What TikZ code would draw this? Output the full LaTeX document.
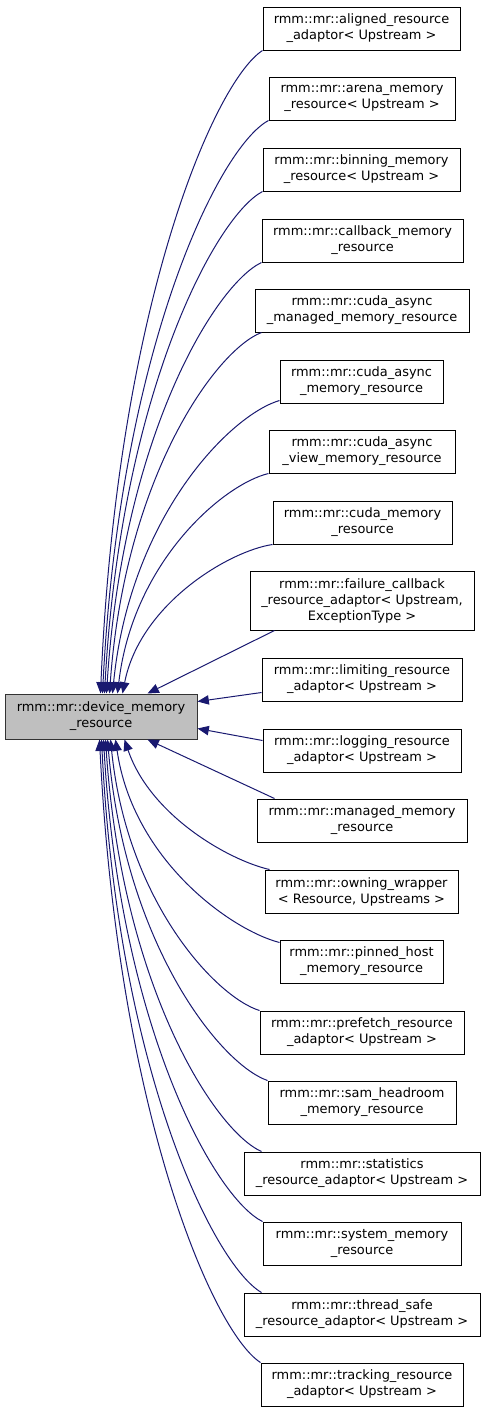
\documentclass[tikz,border=0pt]{standalone}
\usepackage{fontspec}
\setmainfont{DejaVu Sans}
\usetikzlibrary{arrows.meta,calc}
\begin{document}
\begin{tikzpicture}[x=0.75pt,y=-0.75pt,
  cls/.style 2 args={draw=black,line width=0.75pt,rectangle,inner sep=0pt,align=center,
    font=\fontsize{9.7}{12}\selectfont,minimum width=#1*0.75pt,minimum height=#2*0.75pt},
  basecls/.style={fill=black!25,draw=black!80},
  edge/.style={draw={rgb,255:red,25;green,25;blue,112},line width=0.75pt,
    -{Triangle[length=8.5pt,width=7pt,fill={rgb,255:red,25;green,25;blue,112}]}}]
\useasboundingbox (0,0) rectangle (485,1415);
\node[cls={192}{45},basecls] (base) at (101,716.5) {rmm::mr::device\_memory\\\_resource};
\node[cls={197}{43}] (n1) at (361.5,28.5) {rmm::mr::aligned\_resource\\\_adaptor< Upstream >};
\node[cls={186}{43}] (n2) at (362,98.5) {rmm::mr::arena\_memory\\\_resource< Upstream >};
\node[cls={197}{43}] (n3) at (361.5,169.5) {rmm::mr::binning\_memory\\\_resource< Upstream >};
\node[cls={201}{43}] (n4) at (362.5,240.5) {rmm::mr::callback\_memory\\\_resource};
\node[cls={214}{43}] (n5) at (362,310.5) {rmm::mr::cuda\_async\\\_managed\_memory\_resource};
\node[cls={163}{43}] (n6) at (361.5,381.5) {rmm::mr::cuda\_async\\\_memory\_resource};
\node[cls={186}{43}] (n7) at (362,451.5) {rmm::mr::cuda\_async\\\_view\_memory\_resource};
\node[cls={179}{43}] (n8) at (362.5,522.5) {rmm::mr::cuda\_memory\\\_resource};
\node[cls={224}{59}] (n9) at (362,600.5) {rmm::mr::failure\_callback\\\_resource\_adaptor< Upstream,\\ExceptionType >};
\node[cls={200}{43}] (n10) at (362,679.5) {rmm::mr::limiting\_resource\\\_adaptor< Upstream >};
\node[cls={198}{43}] (n11) at (362,750.5) {rmm::mr::logging\_resource\\\_adaptor< Upstream >};
\node[cls={210}{43}] (n12) at (362,820.5) {rmm::mr::managed\_memory\\\_resource};
\node[cls={193}{43}] (n13) at (361.5,891.5) {rmm::mr::owning\_wrapper\\< Resource, Upstreams >};
\node[cls={163}{43}] (n14) at (361.5,961.5) {rmm::mr::pinned\_host\\\_memory\_resource};
\node[cls={204}{43}] (n15) at (362,1032.5) {rmm::mr::prefetch\_resource\\\_adaptor< Upstream >};
\node[cls={188}{43}] (n16) at (362,1102.5) {rmm::mr::sam\_headroom\\\_memory\_resource};
\node[cls={236}{43}] (n17) at (362,1173.5) {rmm::mr::statistics\\\_resource\_adaptor< Upstream >};
\node[cls={198}{43}] (n18) at (362,1243.5) {rmm::mr::system\_memory\\\_resource};
\node[cls={236}{43}] (n19) at (362,1314.5) {rmm::mr::thread\_safe\\\_resource\_adaptor< Upstream >};
\node[cls={202}{43}] (n20) at (362,1384.5) {rmm::mr::tracking\_resource\\\_adaptor< Upstream >};
% upper edges
\draw[edge] (n1.south west) .. controls (214,82) and (117,307) .. ($(base.north west)+(96,0)$);
\draw[edge] (n2.south west) .. controls (219,147) and (120,348) .. ($(base.north west)+(98,0)$);
\draw[edge] (n3.south west) .. controls (216,216) and (121,392) .. ($(base.north west)+(100,0)$);
\draw[edge] (n4.south west) .. controls (216,284) and (123,434) .. ($(base.north west)+(102,0)$);
\draw[edge] ($(n5.south west)+(7,0)$) .. controls (216,350) and (125,476) .. ($(base.north west)+(105,0)$);
\draw[edge] ($(n6.south west)+(0,-3)$) .. controls (230,415) and (130,517) .. ($(base.north west)+(108,0)$);
\draw[edge] (n7.south west) .. controls (224,484) and (133,561) .. ($(base.north west)+(113,0)$);
\draw[edge] (n8.south west) .. controls (229,551) and (140,604) .. ($(base.north west)+(118,0)$);
\draw[edge] ($(n9.south west)+(25,0)$) -- ($(base.north west)+(143,0)$);
\draw[edge] ($(n10.south west)+(0,-9)$) -- ($(base.north east)+(0,8)$);
\draw[edge] ($(n11.north west)+(0,12)$) -- ($(base.south east)+(0,-11)$);
\draw[edge] ($(n12.north west)+(18,0)$) -- ($(base.south west)+(143,0)$);
% lower edges
\draw[edge] ($(n13.north west)+(5,0)$) .. controls (228,860) and (150,815) .. ($(base.south west)+(120,0)$);
\draw[edge] ($(n14.north west)+(0,3)$) .. controls (231,930) and (133,860) .. ($(base.south west)+(111,0)$);
\draw[edge] (n15.north west) .. controls (216,997) and (127,902) .. ($(base.south west)+(106,0)$);
\draw[edge] (n16.north west) .. controls (220,1064) and (125,944) .. ($(base.south west)+(103,0)$);
\draw[edge] ($(n17.north west)+(18,0)$) .. controls (215,1131) and (122,987) .. ($(base.south west)+(101,0)$);
\draw[edge] (n18.north west) .. controls (215,1198) and (120,1029) .. ($(base.south west)+(99,0)$);
\draw[edge] ($(n19.north west)+(18,0)$) .. controls (214,1265) and (118,1071) .. ($(base.south west)+(97,0)$);
\draw[edge] (n20.north west) .. controls (213,1332) and (118,1113) .. ($(base.south west)+(95,0)$);
\end{tikzpicture}
\end{document}
